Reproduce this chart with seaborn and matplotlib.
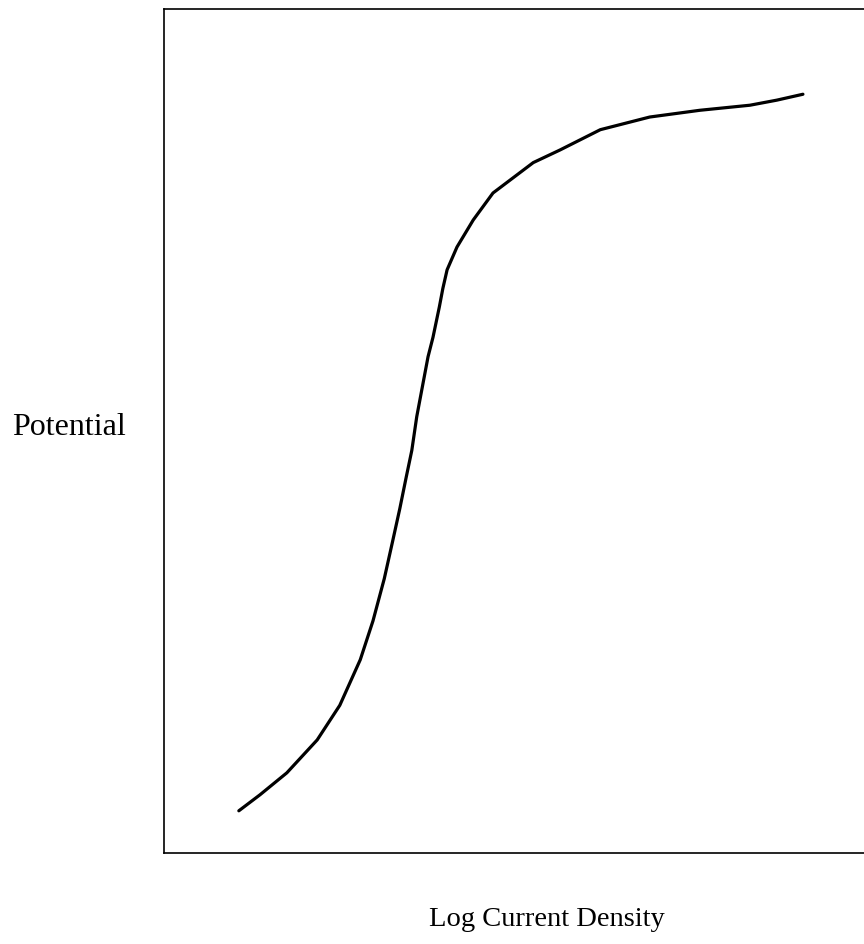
import matplotlib
matplotlib.use('Agg')
import pandas as pd
import seaborn as sns
import matplotlib.pyplot as plt

# curve (arbitrary units, 0-100 on both axes)
log_current = [10.6, 13.6, 17.4, 21.7, 24.9, 27.8, 29.6, 31.2, 32.4, 33.4,
               34.3, 35.1, 35.8, 36.7, 37.4, 38.1, 39.0, 39.5, 40.1, 41.5,
               43.8, 46.6, 52.3, 56.1, 61.8, 68.8, 75.9, 83.0, 86.8, 90.5]
potential = [5.0, 6.9, 9.5, 13.4, 17.5, 22.9, 27.5, 32.5, 37.0, 40.8,
             44.5, 47.7, 51.7, 55.7, 58.8, 61.1, 64.7, 66.9, 69.1, 71.8,
             75.0, 78.2, 81.8, 83.3, 85.7, 87.2, 88.0, 88.6, 89.2, 89.9]

x_label = 'Log Current Density'
y_label = 'Potential'

df = pd.DataFrame({'log_current': log_current, 'potential': potential})

sns.set_style('white')
plt.rcParams['font.family'] = ['Liberation Serif', 'DejaVu Serif']
plt.rcParams['text.color'] = 'black'

fig = plt.figure(figsize=(8.64, 9.44), dpi=100)
ax = fig.add_axes([164 / 864, 1 - 853 / 944, 706 / 864, 844 / 944])

sns.lineplot(data=df, x='log_current', y='potential', sort=False,
             color='black', linewidth=2.3, ax=ax)

ax.set_xlim(0, 100)
ax.set_ylim(0, 100)
ax.set_xticks([])
ax.set_yticks([])
ax.set_xlabel('')
ax.set_ylabel('')
for side in ax.spines.values():
    side.set_color('black')
    side.set_linewidth(1.2)

fig.text(12 / 864, 1 - 435 / 944, y_label, fontsize=23, ha='left', va='baseline')
fig.text(547 / 864, 1 - 926 / 944, x_label, fontsize=20.5, ha='center', va='baseline')

fig.savefig('out.png', dpi=100)
